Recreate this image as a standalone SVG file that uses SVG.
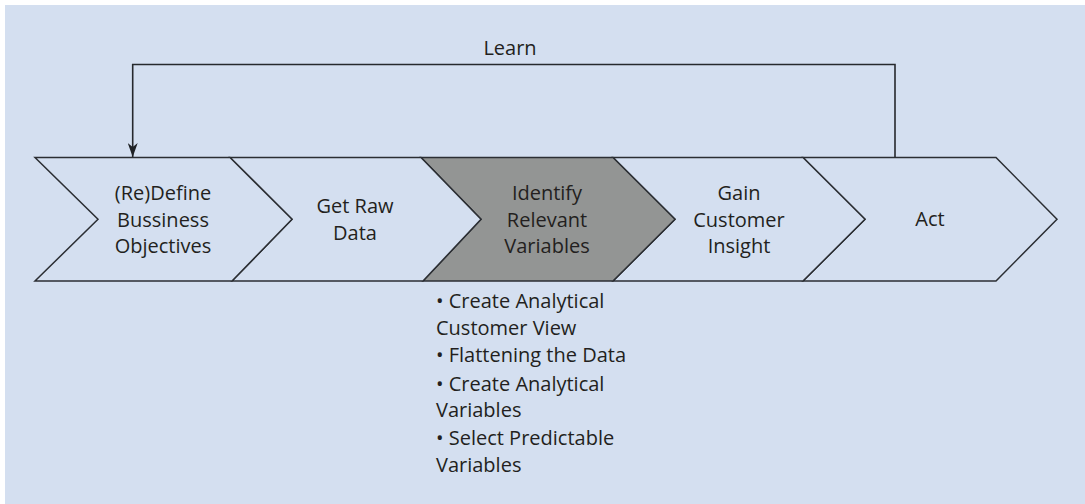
<svg xmlns="http://www.w3.org/2000/svg" width="1085" height="504" viewBox="0 0 1085 504">
<style>
.bg{fill:#d4dff0}
.chev{fill:#d4dff0;stroke:#2b2e33;stroke-width:1.5;stroke-linejoin:miter}
.chev.hl{fill:#939594}
.t{font-family:"Open Sans","Noto Sans",sans-serif;font-size:20px;fill:#231f20;text-anchor:middle}
.b{font-family:"Open Sans","Noto Sans",sans-serif;font-size:20px;fill:#231f20}
.conn{fill:none;stroke:#26292d;stroke-width:1.6}
</style>
<defs>
<marker id="arr" viewBox="0 0 14 10" refX="14" refY="5" markerWidth="14" markerHeight="10" markerUnits="userSpaceOnUse" orient="auto">
<path d="M0,0 L14,5 L0,10 L4,5 z" fill="#1f2226"/>
</marker>
</defs>
<rect class="bg" x="5" y="5" width="1080" height="499"/>
<g id="node-act">
<polygon class="chev" points="803,157.5 996,157.5 1057,219.3 996,281 803,281 865,219.3"/>
<text class="t" x="930" y="226">Act</text>
</g>
<g id="node-gain">
<polygon class="chev" points="613,157.5 803,157.5 865,219.3 803,281 613,281 675,219.3"/>
<text class="t" x="739" y="200">Gain</text>
<text class="t" x="739" y="226.5">Customer</text>
<text class="t" x="739" y="253">Insight</text>
</g>
<g id="node-identify">
<polygon class="chev hl" points="421,157.5 613,157.5 675,219.3 613,281 423,281 481,219.3"/>
<text class="t" x="547" y="200">Identify</text>
<text class="t" x="547" y="226.5">Relevant</text>
<text class="t" x="547" y="253">Variables</text>
</g>
<g id="node-getraw">
<polygon class="chev" points="230,157.5 421,157.5 481,219.3 423,281 232,281 292,219.3"/>
<text class="t" x="355" y="212.5">Get Raw</text>
<text class="t" x="355" y="239.5">Data</text>
</g>
<g id="node-define">
<polygon class="chev" points="35,157.5 230,157.5 292,219.3 232,281 35,281 98,219.3"/>
<text class="t" x="163" y="200">(Re)Define</text>
<text class="t" x="163" y="226.5">Bussiness</text>
<text class="t" x="163" y="253">Objectives</text>
</g>
<g id="node-bullets">
<text class="b" x="436" y="307.5">• Create Analytical</text>
<text class="b" x="436" y="335">Customer View</text>
<text class="b" x="436" y="362.3">• Flattening the Data</text>
<text class="b" x="436" y="390.5">• Create Analytical</text>
<text class="b" x="436" y="417.3">Variables</text>
<text class="b" x="436" y="445">• Select Predictable</text>
<text class="b" x="436" y="471.7">Variables</text>
</g>
<g id="connectors">
<path class="conn" d="M895,157.5 V64.5 H132.7 V157" marker-end="url(#arr)"/>
<text class="t" x="510" y="55">Learn</text>
</g>
</svg>
